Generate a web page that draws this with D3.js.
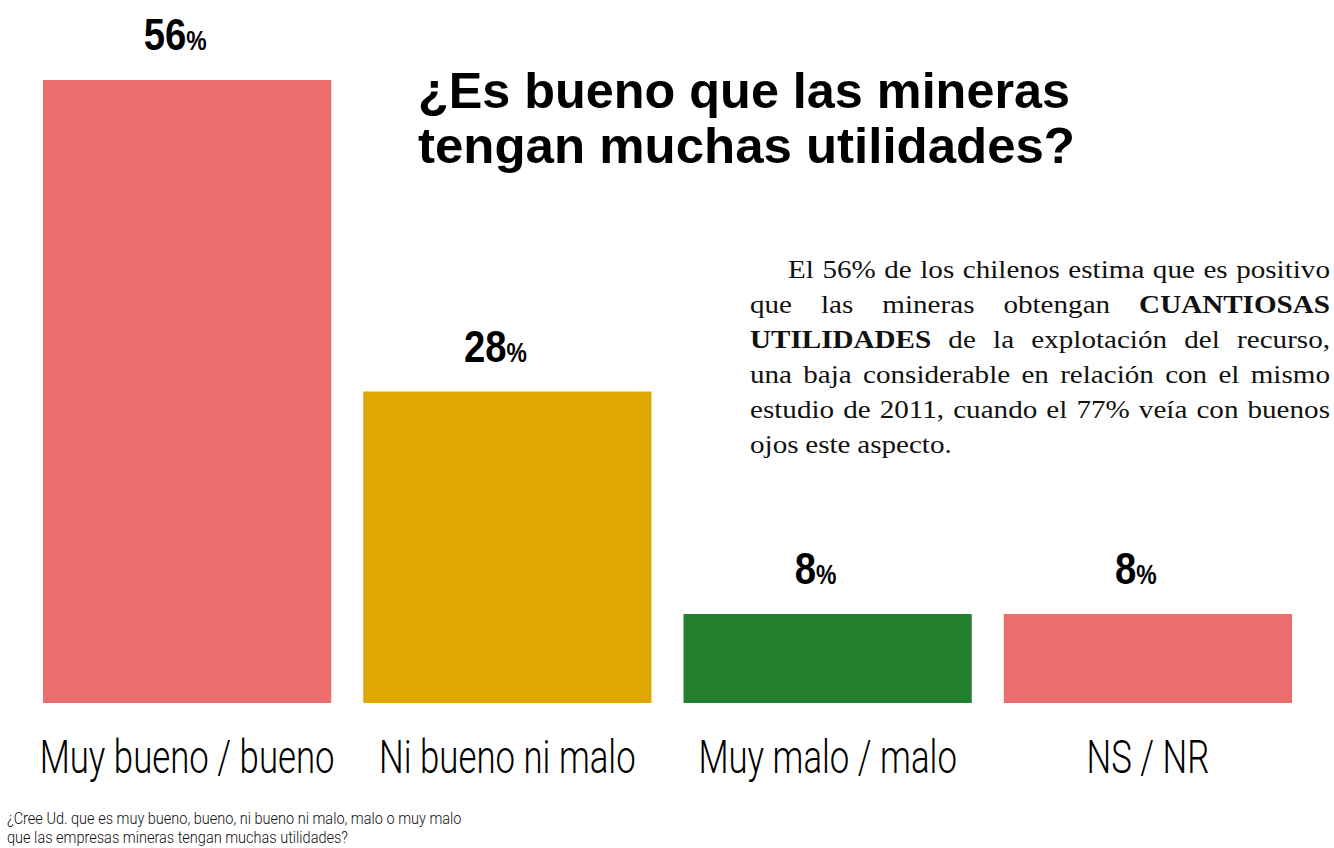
<!DOCTYPE html>
<html>
<head>
<meta charset="utf-8">
<script src="https://cdn.jsdelivr.net/npm/d3@7"></script>
<style>
  body { margin: 0; background: #fff; }
</style>
</head>
<body>
<div id="chart"></div>
<script>
// data
const categories = ["Muy bueno / bueno", "Ni bueno ni malo", "Muy malo / malo", "NS / NR"];
const values = [56, 28, 8, 8];
const barColors = ["#EC6E6C", "#DEA800", "#23802E", "#EC6E6C"];

const titleLines = ["¿Es bueno que las mineras", "tengan muchas utilidades?"];
const noteLines = [
  "¿Cree Ud. que es muy bueno, bueno, ni bueno ni malo, malo o muy malo",
  "que las empresas mineras tengan muchas utilidades?"
];
// paragraph, each line = list of [text, bold]
const paraLines = [
  [["El", 0], ["56%", 0], ["de", 0], ["los", 0], ["chilenos", 0], ["estima", 0], ["que", 0], ["es", 0], ["positivo", 0]],
  [["que", 0], ["las", 0], ["mineras", 0], ["obtengan", 0], ["CUANTIOSAS", 1]],
  [["UTILIDADES", 1], ["de", 0], ["la", 0], ["explotación", 0], ["del", 0], ["recurso,", 0]],
  [["una", 0], ["baja", 0], ["considerable", 0], ["en", 0], ["relación", 0], ["con", 0], ["el", 0], ["mismo", 0]],
  [["estudio", 0], ["de", 0], ["2011,", 0], ["cuando", 0], ["el", 0], ["77%", 0], ["veía", 0], ["con", 0], ["buenos", 0]],
  [["ojos", 0], ["este", 0], ["aspecto.", 0]]
];

const W = 1334, H = 848;
const svg = d3.select("#chart").append("svg")
  .attr("width", W).attr("height", H);

const x = d3.scaleBand()
  .domain(categories)
  .range([43, 1292])
  .paddingInner(0.1)
  .paddingOuter(0);

const y = d3.scaleLinear()
  .domain([0, 56])
  .range([703, 80]);

// bars
svg.selectAll("rect.bar")
  .data(values)
  .enter().append("rect")
  .attr("class", "bar")
  .attr("x", (d, i) => x(categories[i]))
  .attr("y", d => y(d))
  .attr("width", x.bandwidth())
  .attr("height", d => y(0) - y(d))
  .attr("fill", (d, i) => barColors[i]);

// value labels (condensed by horizontal scale)
const vg = svg.selectAll("g.val")
  .data(values)
  .enter().append("g")
  .attr("class", "val")
  .attr("transform", (d, i) => "translate(" + (x(categories[i]) + x.bandwidth() / 2 - 12) + "," + (y(d) - 30) + ")scale(0.85,1)");
const vl = vg.append("text")
  .attr("text-anchor", "middle")
  .style("font-family", "'Liberation Sans', Arial, sans-serif")
  .style("font-weight", "bold")
  .style("fill", "#000");
vl.append("tspan").style("font-size", "45px").text(d => d);
vl.append("tspan").style("font-size", "27px").text("%");

// category labels: light font squeezed to a condensed look
const cg = svg.selectAll("g.cat")
  .data(categories)
  .enter().append("g")
  .attr("class", "cat");
const ct = cg.append("text")
  .attr("text-anchor", "middle")
  .style("font-family", "Roboto, 'Liberation Sans', sans-serif")
  .style("font-weight", "300")
  .style("font-size", "46px")
  .style("fill", "#000")
  .text(d => d);
const catScale = 295 / ct.node().getComputedTextLength();
cg.attr("transform", d => "translate(" + (x(d) + x.bandwidth() / 2) + ",773)scale(" + catScale + ",1)");

// title
svg.selectAll("text.title")
  .data(titleLines)
  .enter().append("text")
  .attr("class", "title")
  .attr("x", 418)
  .attr("y", (d, i) => 108 + i * 55)
  .attr("textLength", (d, i) => i === 0 ? 652 : 657)
  .attr("lengthAdjust", "spacingAndGlyphs")
  .style("font-family", "'Liberation Sans', Arial, sans-serif")
  .style("font-weight", "bold")
  .style("font-size", "50px")
  .style("fill", "#000")
  .text(d => d);

// paragraph, justified by hand, slightly widened
const pLeft = 750, pRight = 1330, indent = 38, pScale = 1.12;
const para = svg.append("g")
  .attr("transform", "translate(" + pLeft + ",0)scale(" + pScale + ",1)");
const innerW = (pRight - pLeft) / pScale;
paraLines.forEach(function (line, li) {
  const words = line.map(function (w) {
    return para.append("text")
      .attr("y", 278 + li * 35)
      .style("font-family", "'Liberation Serif', 'Times New Roman', serif")
      .style("font-size", "26px")
      .style("font-weight", w[1] ? "bold" : "normal")
      .style("fill", "#111")
      .text(w[0]);
  });
  const widths = words.map(t => t.node().getComputedTextLength());
  const start = li === 0 ? indent / pScale : 0;
  const total = d3.sum(widths);
  const last = li === paraLines.length - 1;
  const gap = last ? 6 : (innerW - start - total) / (words.length - 1);
  let cx = start;
  words.forEach(function (t, i) {
    t.attr("x", cx);
    cx += widths[i] + gap;
  });
});

// footnote
const ng = svg.append("g").attr("transform", "translate(7,0)");
const nt = ng.selectAll("text.note")
  .data(noteLines)
  .enter().append("text")
  .attr("class", "note")
  .attr("y", (d, i) => 824 + i * 19)
  .style("font-family", "Roboto, 'Liberation Sans', sans-serif")
  .style("font-weight", "300")
  .style("font-size", "16px")
  .style("fill", "#111")
  .text(d => d);
const noteScale = 455 / nt.node().getComputedTextLength();
ng.attr("transform", "translate(7,0)scale(" + noteScale + ",1)");
</script>
</body>
</html>
